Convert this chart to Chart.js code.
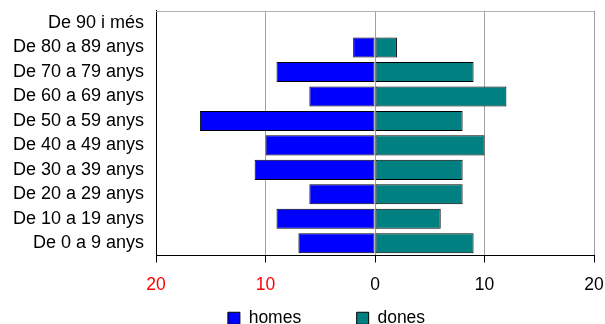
<!DOCTYPE html>
<html>
<head>
<meta charset="utf-8">
<style>
  html, body { margin: 0; padding: 0; background: #fff; }
</style>
<script src="https://cdn.jsdelivr.net/npm/chart.js@4/dist/chart.umd.min.js"></script>
</head>
<body>
<canvas id="piramideChart" width="605" height="324"></canvas>
<script>
// age groups, top to bottom
const categories = ['De 90 i més', 'De 80 a 89 anys', 'De 70 a 79 anys', 'De 60 a 69 anys', 'De 50 a 59 anys',
  'De 40 a 49 anys', 'De 30 a 39 anys', 'De 20 a 29 anys', 'De 10 a 19 anys', 'De 0 a 9 anys'];

const homes = [0, 2, 9, 6, 16, 10, 11, 6, 9, 7];
const dones = [0, 2, 9, 12, 8, 10, 8, 8, 6, 9];

const xTicks = [-20, -10, 0, 10, 20];

const ctx = document.getElementById('piramideChart').getContext('2d');

Chart.defaults.font.family = '"Liberation Sans", Arial, sans-serif';
Chart.defaults.font.size = 17.5;
Chart.defaults.color = '#000';

// thin grey line along the top of the plot
const frame = {
  id: 'frame',
  beforeDatasetsDraw(chart) {
    const a = chart.chartArea;
    const c = chart.ctx;
    c.save();
    c.strokeStyle = '#b0b0b0';
    c.lineWidth = 1;
    c.beginPath();
    c.moveTo(a.left, Math.round(a.top) + 0.5);
    c.lineTo(a.right, Math.round(a.top) + 0.5);
    c.stroke();
    c.restore();
  }
};

const data = {
  labels: categories,
  datasets: [{
    label: 'homes',
    data: homes.map(v => -v), // men go to the left
    backgroundColor: '#0000ff',
    borderColor: '#000',
    borderWidth: 1,
    borderSkipped: false,
  }, {
    label: 'dones',
    data: dones,
    backgroundColor: '#008080',
    borderColor: '#000',
    borderWidth: 1,
    borderSkipped: false,
  }]
};

const config = {
  type: 'bar',
  data: data,
  options: {
    indexAxis: 'y',
    responsive: false,
    animation: false,
    barPercentage: 0.82,
    categoryPercentage: 1,
    layout: { padding: { left: 13, top: -12, right: -35, bottom: -13 } },
    plugins: {
      legend: {
        position: 'bottom',
        labels: {
          boxWidth: 12,
          boxHeight: 12,
          padding: 2,
          color: '#000',
          generateLabels: chart => {
            const items = Chart.defaults.plugins.legend.labels.generateLabels(chart);
            // wider gap after the first entry, as in the original
            items[0].text = items[0].text + '\u00a0'.repeat(11);
            return items;
          }
        }
      },
      tooltip: { enabled: false }
    },
    scales: {
      x: {
        stacked: true,
        min: -20,
        max: 20,
        afterBuildTicks: axis => { axis.ticks = xTicks.map(v => ({ value: v })); },
        // let the last "20" hang into the right margin
        afterFit: axis => { axis.paddingRight = 11; },
        ticks: {
          callback: v => Math.abs(v),
          color: c => c.tick && c.tick.value < 0 ? '#ff0000' : '#000',
          padding: 12
        },
        grid: { color: '#a0a0a0', tickLength: 7, tickColor: '#000' },
        border: { color: '#000' }
      },
      y: {
        stacked: true,
        ticks: { padding: 0, autoSkip: false, font: { size: 18 } },
        // tick marks hidden, their length only keeps the gap to the axis
        grid: { display: false, drawTicks: true, tickLength: 12 },
        border: { color: '#000' }
      }
    }
  },
  plugins: [frame]
};

const piramideChart = new Chart(ctx, config);
</script>
</body>
</html>
